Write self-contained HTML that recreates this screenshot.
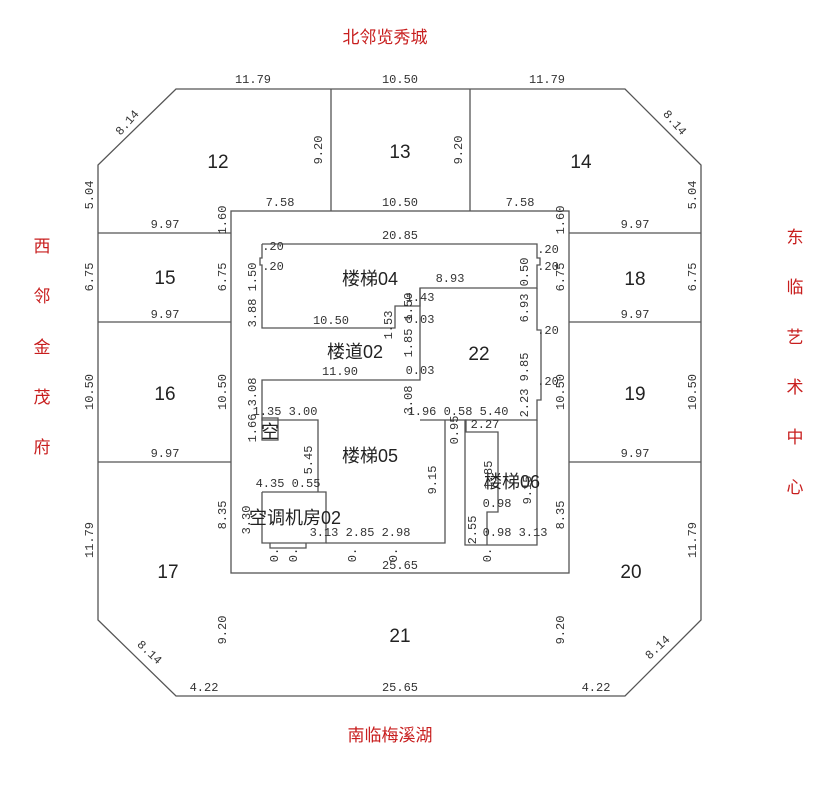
<!DOCTYPE html>
<html><head><meta charset="utf-8"><style>
html,body{margin:0;padding:0;background:#fff;}
svg{display:block;}
.r{fill:#c81e1e;font-family:"Liberation Sans","Noto Sans CJK SC",sans-serif;font-size:17px;}
.n{fill:#222;font-family:"Liberation Sans","Noto Sans CJK SC",sans-serif;font-size:19px;}
.d{fill:#333;font-family:"Liberation Mono","Noto Sans CJK SC",monospace;font-size:12px;}
.c{fill:#222;font-family:"Liberation Sans","Noto Sans CJK SC",sans-serif;font-size:18px;}
line,polyline,polygon{stroke:#555;stroke-width:1.3;fill:none;}
</style></head><body>
<svg width="840" height="802" viewBox="0 0 840 802" xmlns="http://www.w3.org/2000/svg">
<rect width="840" height="802" fill="#fff"/>
<!-- outer octagon -->
<polygon points="176,89 625,89 701,165 701,620 625,696 176,696 98,620 98,165"/>
<!-- inner rect -->
<rect x="231" y="211" width="338" height="362" style="stroke:#555;stroke-width:1.3;fill:none"/>
<line x1="331" y1="89" x2="331" y2="211"/>
<line x1="470" y1="89" x2="470" y2="211"/>
<line x1="98" y1="233" x2="231" y2="233"/>
<line x1="569" y1="233" x2="701" y2="233"/>
<line x1="98" y1="322" x2="231" y2="322"/>
<line x1="569" y1="322" x2="701" y2="322"/>
<line x1="98" y1="462" x2="231" y2="462"/>
<line x1="569" y1="462" x2="701" y2="462"/>
<!-- inner shapes -->
<polyline points="262,244 262,258 260,258 260,265 262,265 262,328 395,328 395,306 420,306 420,288 537,288 537,265 540,265 540,258 537,258 537,244 262,244"/>
<polyline points="420,288 420,380 262,380 262,420 318,420 318,492"/>
<polyline points="537,288 537,330 541,330 541,400 537,400 537,420 420,420"/>
<rect x="262" y="418" width="16" height="22" style="stroke:#555;stroke-width:1.3;fill:none"/>
<polyline points="262,492 326,492 326,543 262,543 262,492"/>
<polyline points="270,543 270,548 306,548 306,543"/>
<polyline points="326,543 445,543 445,420"/>
<polyline points="465,420 465,545 537,545 537,420"/>
<polyline points="465,420 466,420 466,432 498,432 498,512 487,512 487,545"/>
<!-- room numbers -->
<text class="n" x="218" y="168" text-anchor="middle">12</text>
<text class="n" x="400" y="158" text-anchor="middle">13</text>
<text class="n" x="581" y="168" text-anchor="middle">14</text>
<text class="n" x="165" y="284" text-anchor="middle">15</text>
<text class="n" x="635" y="285" text-anchor="middle">18</text>
<text class="n" x="165" y="400" text-anchor="middle">16</text>
<text class="n" x="635" y="400" text-anchor="middle">19</text>
<text class="n" x="168" y="578" text-anchor="middle">17</text>
<text class="n" x="631" y="578" text-anchor="middle">20</text>
<text class="n" x="400" y="642" text-anchor="middle">21</text>
<text class="n" x="479" y="360" text-anchor="middle">22</text>
<text class="c" x="370" y="285" text-anchor="middle">楼梯04</text>
<text class="c" x="355" y="358" text-anchor="middle">楼道02</text>
<text class="c" x="370" y="462" text-anchor="middle">楼梯05</text>
<text class="c" x="512" y="488" text-anchor="middle">楼梯06</text>
<text class="c" x="295" y="524" text-anchor="middle">空调机房02</text>
<text class="c" x="270" y="438" text-anchor="middle">空</text>
<!-- direction labels -->
<text class="r" x="385" y="43" text-anchor="middle">北邻览秀城</text>
<text class="r" x="390" y="741" text-anchor="middle">南临梅溪湖</text>
<g class="r" text-anchor="middle">
<text x="42" y="252">西</text><text x="42" y="302">邻</text><text x="42" y="353">金</text><text x="42" y="403">茂</text><text x="42" y="453">府</text>
<text x="795" y="243">东</text><text x="795" y="293">临</text><text x="795" y="343">艺</text><text x="795" y="393">术</text><text x="795" y="443">中</text><text x="795" y="493">心</text>
</g>
<!-- dimensions horizontal -->
<g class="d" text-anchor="middle">
<text x="253" y="83">11.79</text><text x="400" y="83">10.50</text><text x="547" y="83">11.79</text>
<text x="280" y="206">7.58</text><text x="400" y="206">10.50</text><text x="520" y="206">7.58</text>
<text x="165" y="228">9.97</text><text x="635" y="228">9.97</text>
<text x="165" y="318">9.97</text><text x="635" y="318">9.97</text>
<text x="165" y="457">9.97</text><text x="635" y="457">9.97</text>
<text x="400" y="239">20.85</text><text x="450" y="282">8.93</text>
<text x="331" y="324">10.50</text><text x="340" y="375">11.90</text>
<text x="420" y="301">1.43</text><text x="420" y="323">0.03</text><text x="420" y="374">0.03</text>
<text x="285" y="415">1.35 3.00</text><text x="458" y="415">1.96 0.58 5.40</text><text x="485" y="428">2.27</text>
<text x="288" y="487">4.35 0.55</text><text x="497" y="507">0.98</text>
<text x="360" y="536">3.13 2.85 2.98</text><text x="515" y="536">0.98 3.13</text>
<text x="400" y="569">25.65</text><text x="400" y="691">25.65</text>
<text x="204" y="691">4.22</text><text x="596" y="691">4.22</text>
<text x="273" y="250">.20</text><text x="273" y="270">.20</text><text x="548" y="253">.20</text><text x="548" y="270">.20</text>
<text x="548" y="334">.20</text><text x="548" y="385">.20</text>
</g>
<!-- vertical dims -->
<g class="d" text-anchor="middle">
<text transform="translate(93,195) rotate(-90)">5.04</text>
<text transform="translate(93,277) rotate(-90)">6.75</text>
<text transform="translate(93,392) rotate(-90)">10.50</text>
<text transform="translate(93,540) rotate(-90)">11.79</text>
<text transform="translate(226,277) rotate(-90)">6.75</text>
<text transform="translate(226,392) rotate(-90)">10.50</text>
<text transform="translate(226,220) rotate(-90)">1.60</text>
<text transform="translate(226,515) rotate(-90)">8.35</text>
<text transform="translate(226,630) rotate(-90)">9.20</text>
<text transform="translate(322,150) rotate(-90)">9.20</text>
<text transform="translate(462,150) rotate(-90)">9.20</text>
<text transform="translate(696,195) rotate(-90)">5.04</text>
<text transform="translate(696,277) rotate(-90)">6.75</text>
<text transform="translate(696,392) rotate(-90)">10.50</text>
<text transform="translate(696,540) rotate(-90)">11.79</text>
<text transform="translate(564,220) rotate(-90)">1.60</text>
<text transform="translate(564,277) rotate(-90)">6.75</text>
<text transform="translate(564,392) rotate(-90)">10.50</text>
<text transform="translate(564,515) rotate(-90)">8.35</text>
<text transform="translate(564,630) rotate(-90)">9.20</text>
<text transform="translate(256,295) rotate(-90)">3.88 1.50</text>
<text transform="translate(256,410) rotate(-90)">1.66 3.08</text>
<text transform="translate(392,325) rotate(-90)">1.53</text>
<text transform="translate(412,325) rotate(-90)">1.85 1.50</text>
<text transform="translate(412,400) rotate(-90)">3.08</text>
<text transform="translate(528,290) rotate(-90)">6.93 0.50</text>
<text transform="translate(528,385) rotate(-90)">2.23 9.85</text>
<text transform="translate(312,460) rotate(-90)">5.45</text>
<text transform="translate(436,480) rotate(-90)">9.15</text>
<text transform="translate(458,430) rotate(-90)">0.95</text>
<text transform="translate(492,475) rotate(-90)">1.85</text>
<text transform="translate(531,490) rotate(-90)">9.15</text>
<text transform="translate(476,530) rotate(-90)">2.55</text>
<text transform="translate(250,520) rotate(-90)">3.30</text>
<text transform="translate(278,555) rotate(-90)">0.</text><text transform="translate(297,555) rotate(-90)">0.</text>
<text transform="translate(356,555) rotate(-90)">0.</text><text transform="translate(397,555) rotate(-90)">0.</text>
<text transform="translate(491,555) rotate(-90)">0.</text>
</g>
<g class="d" text-anchor="middle">
<text transform="translate(130,125) rotate(-49)">8.14</text>
<text transform="translate(672,125) rotate(49)">8.14</text>
<text transform="translate(147,655) rotate(43)">8.14</text>
<text transform="translate(660,650) rotate(-43)">8.14</text>
</g>
</svg>
</body></html>
